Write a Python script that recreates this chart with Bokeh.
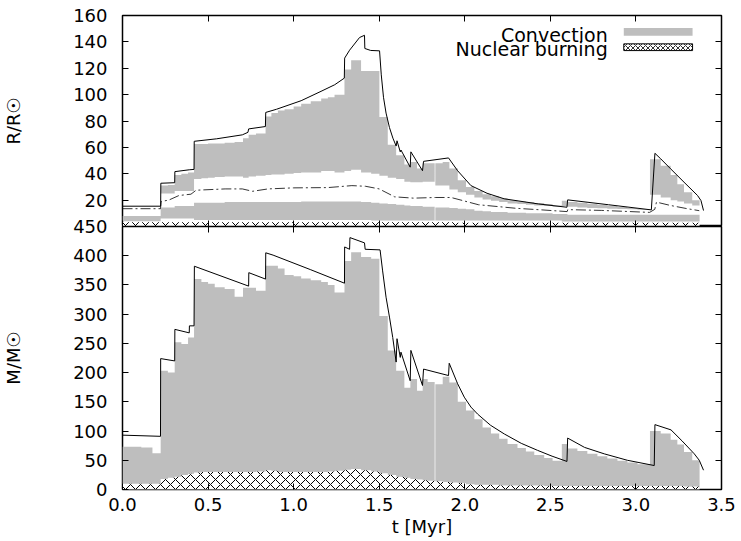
import numpy as np
from bokeh.plotting import figure
from bokeh.layouts import column
from bokeh.models import (Range1d, LinearAxis, FixedTicker, PrintfTickFormatter,
                          BoxAnnotation, Label)
from bokeh.embed import file_html
from bokeh.resources import INLINE

# ---------------- data ----------------
# time bins [Myr]
t_edges = [0.000, 0.110, 0.175, 0.223, 0.265, 0.305, 0.344, 0.383, 0.418, 0.461,
           0.500, 0.539, 0.597, 0.655, 0.704, 0.737, 0.780, 0.836, 0.870, 0.908,
           0.947, 1.000, 1.044, 1.100, 1.161, 1.200, 1.239, 1.297, 1.336, 1.394,
           1.453, 1.501, 1.550, 1.599, 1.647, 1.682, 1.721, 1.754, 1.783, 1.824,
           1.828, 1.871, 1.910, 1.959, 2.007, 2.056, 2.104, 2.153, 2.201, 2.250,
           2.308, 2.357, 2.406, 2.464, 2.513, 2.567, 2.600, 2.658, 2.716, 2.775,
           2.833, 2.892, 2.950, 3.009, 3.082, 3.145, 3.203, 3.242, 3.281, 3.329,
           3.372]

# lower panel: mass coordinate [Msun]
conv_M_top = [73, 72, 62, 203, 200, 252, 249, 260, 360, 355,
              352, 346, 343, 330, 345, 345, 340, 383, 383, 378,
              367, 365, 361, 358, 355, 350, 337, 391, 406, 398,
              395, 297, 238, 203, 174, 189, 169, 189, 184, 0,
              180, 193, 183, 150, 135, 120, 106, 96, 87, 78,
              71, 65, 59, 54, 49, 78, 70, 66, 61, 57,
              53, 49, 46, 43, 100, 96, 85, 77, 64, 50]
burn_M_top = [10, 10, 10, 18, 20, 22, 25, 27, 29, 30,
              30, 30, 30, 30, 30, 30, 31, 33, 32, 30,
              30, 30, 30, 30, 30, 31, 32, 34, 35, 33,
              31, 28, 25, 22, 20, 18, 17, 16, 15, 14,
              14, 13, 12, 11, 9, 8, 8, 8, 7, 7,
              7, 7, 7, 6, 6, 6, 6, 6, 6, 6,
              6, 6, 6, 6, 6, 6, 6, 6, 5, 5]

# upper panel: radius coordinate [Rsun]
env_R_lo = [0, 0, 0, 25, 25, 27, 27, 27, 36, 36.5,
            37, 37.5, 38, 38, 37, 38, 38.5, 39, 39.5, 39.5,
            40, 40.5, 41, 41, 42, 42, 41, 42, 43, 41,
            40, 38.5, 37, 36, 34, 33.5, 33.5, 34, 34, 0,
            31, 31, 28, 26, 24, 22, 20.5, 19.5, 18.5, 17.5,
            17, 16.5, 16, 15.5, 15, 15.5, 15, 14.5, 14, 13.8,
            13.5, 13.2, 13, 12.5, 24, 22, 20, 19, 17.5, 16]
env_R_hi = [0, 0, 0, 31, 31.5, 39, 40, 41, 62.5, 62.5,
            63, 63, 63.5, 64, 67, 69.5, 70.5, 83.5, 86, 88,
            89, 91, 93, 95, 97, 98, 100, 119, 126, 118,
            118, 83, 62, 54, 47, 49, 44, 48, 48, 0,
            48, 49, 44, 35, 30, 27, 24.5, 23, 21.5, 20,
            19, 18.5, 17.8, 17, 16, 19.5, 18.5, 18, 17.2, 16.5,
            15.8, 14.8, 14, 13, 51, 46, 39, 32, 26, 20]
core_R_lo = [4, 4, 4, 6, 6, 6, 6, 6, 5, 5,
             5, 5, 5, 5, 5, 5, 5, 5, 5, 5,
             5, 5, 5, 5, 5, 5, 5, 5, 5, 5,
             4.5, 4.5, 4.5, 4.5, 4.5, 4.5, 4.5, 4.5, 4.5, 0,
             4.5, 4.5, 4.5, 4.5, 4.5, 4.5, 4.5, 4.5, 4.5, 4.5,
             4.5, 4.5, 4.5, 4.5, 4.5, 3.8, 3.8, 3.8, 3.8, 3.8,
             3.8, 3.8, 3.8, 3.8, 3.8, 3.8, 3.8, 3.8, 3.8, 3.8]
core_R_hi = [8, 8, 8, 14.5, 14.5, 15.5, 15.5, 15.5, 18, 18,
             18, 18, 18.5, 18.5, 18.5, 18.5, 18.5, 18.5, 18.5, 18.5,
             18.5, 18.5, 19, 19, 19, 19, 19, 19, 19, 18.5,
             18, 17.5, 17, 16.5, 16, 15.5, 15.5, 15, 15, 0,
             14.5, 14.5, 14, 13.5, 13, 12, 11.5, 11, 11, 10.5,
             10.5, 10, 10, 10, 9.5, 9.5, 9, 9, 9, 9,
             9, 9, 9, 9, 9, 9, 9, 9, 9, 9]
burn_R_top = [3.2, 3.2, 3.2, 3.2, 3.2, 3.2, 3.2, 3.2, 3.2, 3.2,
              3.2, 3.2, 3.2, 3.2, 3.2, 3.2, 3.2, 3.2, 3.2, 3.2,
              3.2, 3.2, 3.2, 3.2, 3.2, 3.2, 3.2, 3.2, 3.2, 3.2,
              3.2, 3.2, 3.2, 3.2, 3.2, 3.2, 3.2, 3.2, 3.2, 3.2,
              3.2, 3.2, 3.2, 2.8, 2.8, 2.8, 2.8, 2.8, 2.8, 2.8,
              2.8, 2.8, 2.8, 2.8, 2.8, 2.8, 2.8, 2.8, 2.8, 2.8,
              2.8, 2.8, 2.8, 2.8, 2.8, 2.8, 2.8, 2.8, 2.8, 2.8]

# stellar radius (solid line)
R_t = [0.000, 0.223, 0.224, 0.305, 0.306, 0.390, 0.418, 0.419, 0.550, 0.700,
       0.733, 0.737, 0.835, 0.837, 0.900, 1.044, 1.160, 1.240, 1.296, 1.298,
       1.327, 1.385, 1.414, 1.416, 1.450, 1.502, 1.512, 1.525, 1.540, 1.560,
       1.580, 1.599, 1.604, 1.623, 1.627, 1.681, 1.685, 1.753, 1.759, 1.905,
       1.958, 2.036, 2.130, 2.230, 2.430, 2.597, 2.601, 2.840, 3.090, 3.111,
       3.145, 3.203, 3.281, 3.360, 3.380, 3.395]
R_v = [15.4, 15.4, 32.8, 33.2, 41.6, 43.0, 43.3, 64.6, 66.5, 69.5,
       71.4, 74.0, 75.8, 86.5, 88.9, 95.4, 102.5, 107.5, 112.5, 127.7,
       133.7, 143.3, 145.0, 135.0, 133.5, 133.2, 115.0, 98.0, 86.0, 75.0,
       67.0, 61.0, 65.0, 56.6, 58.0, 45.0, 56.6, 42.3, 49.4, 52.0,
       42.3, 31.0, 25.2, 21.0, 17.1, 14.6, 20.2, 16.5, 12.6, 55.5,
       51.3, 43.7, 33.6, 23.5, 19.7, 12.1]

# dash-dotted radius
Rdd_t = [0.000, 0.222, 0.226, 0.270, 0.330, 0.400, 0.430, 0.600, 0.700, 0.760,
         0.850, 1.000, 1.200, 1.340, 1.420, 1.500, 1.590, 1.700, 1.830, 1.920,
         2.080, 2.300, 2.450, 2.598, 2.602, 2.800, 3.080, 3.110, 3.120, 3.200,
         3.300, 3.370]
Rdd_v = [13.5, 13.5, 19.0, 20.0, 23.5, 24.5, 27.5, 28.5, 28.5, 26.7,
         28.5, 29.3, 29.5, 31.0, 30.5, 28.5, 22.5, 21.5, 22.0, 22.0,
         16.5, 13.8, 12.6, 11.3, 12.8, 12.2, 10.7, 13.0, 18.5, 16.0,
         13.5, 12.0]

# stellar mass (solid line)
M_t = [0.000, 0.222, 0.223, 0.305, 0.306, 0.390, 0.391, 0.418, 0.420, 0.737,
       0.738, 0.836, 0.837, 0.880, 1.100, 1.297, 1.298, 1.327, 1.329, 1.414,
       1.418, 1.505, 1.520, 1.540, 1.560, 1.579, 1.599, 1.604, 1.623, 1.627,
       1.681, 1.685, 1.753, 1.759, 1.905, 1.909, 1.958, 1.997, 2.036, 2.075,
       2.150, 2.231, 2.330, 2.425, 2.510, 2.597, 2.601, 2.700, 2.815, 2.950,
       3.107, 3.111, 3.205, 3.270, 3.341, 3.370, 3.395]
M_v = [93, 91, 224, 220, 274, 268, 280, 280, 382, 348,
       371, 360, 405, 401, 376, 353, 415, 411, 431, 422,
       411, 410, 374, 329, 295, 260, 218, 258, 226, 235,
       186, 238, 178, 206, 195, 216, 181, 158, 141, 129,
       110, 95, 79, 67, 57, 48, 88, 72, 61, 50,
       41, 111, 102, 83, 61, 50, 33]

x_ticks = [0.0, 0.5, 1.0, 1.5, 2.0, 2.5, 3.0, 3.5]
R_ticks = [20, 40, 60, 80, 100, 120, 140, 160]
M_ticks = [0, 50, 100, 150, 200, 250, 300, 350, 400, 450]

# ---------------- styling ----------------
GRAY = "#bebebe"
FONT = "DejaVu Sans"
TICK_FS = "18px"
LABEL_FS = "18px"


def step_polys(edges, lo, hi):
    """Stepped polygons for contiguous runs of bins with hi > lo."""
    runs, cur = [], []
    for i in range(len(hi)):
        if hi[i] > lo[i]:
            cur.append(i)
        elif cur:
            runs.append(cur)
            cur = []
    if cur:
        runs.append(cur)
    xs_all, ys_all = [], []
    for run in runs:
        xs, ys = [], []
        for i in run:
            xs += [edges[i], edges[i + 1]]
            ys += [hi[i], hi[i]]
        for i in reversed(run):
            xs += [edges[i + 1], edges[i]]
            ys += [lo[i], lo[i]]
        xs_all.append(xs)
        ys_all.append(ys)
    return xs_all, ys_all


def style_axis(ax, show_labels):
    ax.major_tick_in = 6
    ax.major_tick_out = 0
    ax.major_tick_line_color = "black"
    ax.major_tick_line_width = 1
    ax.minor_tick_line_color = None
    ax.axis_line_color = None
    if show_labels:
        ax.major_label_text_font = FONT
        ax.major_label_text_font_size = TICK_FS
        ax.major_label_text_color = "black"
        ax.axis_label_text_font = FONT
        ax.axis_label_text_font_size = LABEL_FS
        ax.axis_label_text_font_style = "normal"
        ax.axis_label_text_color = "black"
    else:
        # tick marks only (mirror ticks), no labels drawn
        ax.major_label_text_color = None
        ax.major_label_text_font_size = "1px"
        ax.major_label_standoff = 0


def add_frame_axes(p, yticks, ylabel):
    ly = LinearAxis(ticker=FixedTicker(ticks=yticks), axis_label=ylabel)
    style_axis(ly, True)
    ly.major_label_standoff = 15
    ly.axis_label_standoff = 46
    p.add_layout(ly, "left")
    ry = LinearAxis(ticker=FixedTicker(ticks=yticks))
    style_axis(ry, False)
    p.add_layout(ry, "right")
    tx = LinearAxis(ticker=FixedTicker(ticks=x_ticks))
    style_axis(tx, False)
    p.add_layout(tx, "above")


xr = Range1d(0, 3.5)
zeros = [0] * len(burn_M_top)

# ---------------- upper panel ----------------
p1 = figure(width=741, height=226, x_range=xr, y_range=Range1d(0, 160),
            output_backend="svg", toolbar_location=None, tools="",
            x_axis_location=None, y_axis_location=None,
            min_border_left=121, min_border_right=20,
            min_border_top=15, min_border_bottom=0)
p1.grid.visible = False
p1.outline_line_color = "black"
p1.outline_line_width = 1.5
p1.background_fill_color = "white"
p1.border_fill_color = "white"
add_frame_axes(p1, R_ticks, "R/R☉")
bx1 = LinearAxis(ticker=FixedTicker(ticks=x_ticks))
style_axis(bx1, False)
p1.add_layout(bx1, "below")

xs, ys = step_polys(t_edges, env_R_lo, env_R_hi)
p1.patches(xs, ys, fill_color=GRAY, line_color=None)
xs, ys = step_polys(t_edges, core_R_lo, core_R_hi)
p1.patches(xs, ys, fill_color=GRAY, line_color=None)
xs, ys = step_polys(t_edges, zeros, burn_R_top)
p1.patches(xs, ys, fill_color="white", line_color=None,
           hatch_pattern="diagonal_cross", hatch_color="black",
           hatch_scale=10, hatch_weight=1)
p1.line(Rdd_t, Rdd_v, line_color="black", line_width=0.8, line_dash="10 3 2 3")
p1.line(R_t, R_v, line_color="black", line_width=1)

# legend (drawn as annotations, glyph to the right of the text)
p1.add_layout(Label(x=2.835, y=145.3, text="Convection", text_align="right",
                    text_baseline="alphabetic", text_font=FONT,
                    text_font_size="19px", text_color="black"))
p1.add_layout(Label(x=2.835, y=134.7, text="Nuclear burning", text_align="right",
                    text_baseline="alphabetic", text_font=FONT,
                    text_font_size="19px", text_color="black"))
p1.add_layout(BoxAnnotation(left=2.929, right=3.331, bottom=144.6, top=150.6,
                            fill_color=GRAY, fill_alpha=1.0, line_color=None))
p1.add_layout(BoxAnnotation(left=2.929, right=3.331, bottom=133.4, top=138.5,
                            fill_color="white", fill_alpha=1.0,
                            hatch_pattern="diagonal_cross", hatch_color="black",
                            hatch_scale=5, hatch_weight=0.8,
                            line_color="black", line_alpha=1.0, line_width=1))

# ---------------- lower panel ----------------
p2 = figure(width=741, height=327, x_range=xr, y_range=Range1d(0, 450),
            output_backend="svg", toolbar_location=None, tools="",
            x_axis_location=None, y_axis_location=None,
            min_border_left=121, min_border_right=20,
            min_border_top=12, min_border_bottom=52,
            margin=(-12, 0, 0, 0))
p2.grid.visible = False
p2.outline_line_color = "black"
p2.outline_line_width = 1.5
p2.background_fill_color = "white"
p2.border_fill_color = None
add_frame_axes(p2, M_ticks, "M/M☉")
bx2 = LinearAxis(ticker=FixedTicker(ticks=x_ticks), axis_label="t [Myr]",
                 formatter=PrintfTickFormatter(format="%.1f"))
style_axis(bx2, True)
bx2.major_label_standoff = 8
bx2.axis_label_standoff = 2
p2.add_layout(bx2, "below")

xs, ys = step_polys(t_edges, zeros, conv_M_top)
p2.patches(xs, ys, fill_color=GRAY, line_color=None)
xs, ys = step_polys(t_edges, zeros, burn_M_top)
p2.patches(xs, ys, fill_color="white", line_color=None,
           hatch_pattern="diagonal_cross", hatch_color="black",
           hatch_scale=10, hatch_weight=1)
p2.line(M_t, M_v, line_color="black", line_width=1)

layout = column(p1, p2, spacing=0)
open("out.html", "w").write(file_html(layout, INLINE, title="Kippenhahn"))
